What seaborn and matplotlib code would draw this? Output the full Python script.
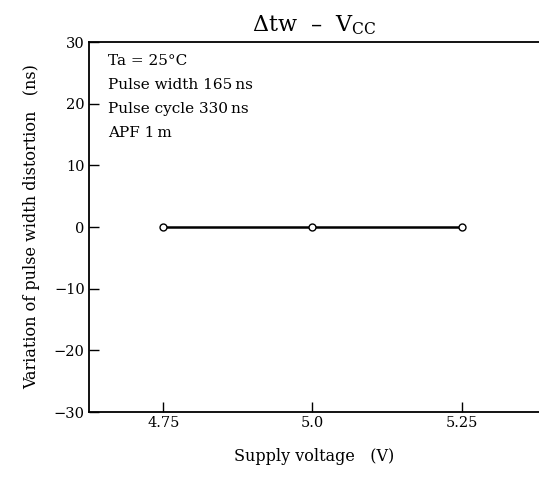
import numpy as np
import pandas as pd
import seaborn as sns
import matplotlib.pyplot as plt

# supply voltage (V) vs. variation of pulse width distortion (ns)
supply_voltage = [4.75, 5.0, 5.25]
distortion = [0.0, 0.0, 0.0]
x_ticks = [4.75, 5.0, 5.25]
x_tick_labels = ['4.75', '5.0', '5.25']
y_ticks = [-30, -20, -10, 0, 10, 20, 30]
y_tick_labels = ['\u221230', '\u221220', '\u221210', '0', '10', '20', '30']
conditions = ['Ta = 25\u00b0C', 'Pulse width 165\u2009ns', 'Pulse cycle 330\u2009ns', 'APF 1\u2009m']

df = pd.DataFrame({'Vcc': supply_voltage, 'dtw': distortion})

sns.set_style('ticks', {'text.color': 'black', 'axes.labelcolor': 'black'})
plt.rcParams['font.family'] = ['DejaVu Serif']
plt.rcParams['mathtext.fontset'] = 'dejavuserif'

fig, ax = plt.subplots(figsize=(5.39, 4.78), dpi=100)
fig.subplots_adjust(left=0.165, right=1.0, top=0.912, bottom=0.138)

sns.lineplot(data=df, x='Vcc', y='dtw', ax=ax, color='black', linewidth=1.8,
             marker='o', markersize=5, markerfacecolor='white',
             markeredgecolor='black', markeredgewidth=1.0)

ax.set_xlim(4.625, 5.38)
ax.set_ylim(-30, 30)
ax.set_xticks(x_ticks)
ax.set_xticklabels(x_tick_labels)
ax.set_yticks(y_ticks)
ax.set_yticklabels(y_tick_labels)
ax.tick_params(direction='in', length=7, width=1, labelsize=10.5, colors='black', pad=3)

for s in ['left', 'bottom', 'top']:
    ax.spines[s].set_linewidth(1.3)
    ax.spines[s].set_color('black')
ax.spines['right'].set_visible(False)

ax.set_xlabel('Supply voltage   (V)', fontsize=11.5, labelpad=13, color='black')
ax.set_ylabel('Variation of pulse width distortion   (ns)', fontsize=11.5, labelpad=10, color='black')
ax.set_title('$\\mathit{\\Delta}$tw  \u2013  V$_{\\rm CC}$', fontsize=16, pad=8, color='black')

for i, line in enumerate(conditions):
    ax.text(0.042, 0.95 - i * 0.065, line, transform=ax.transAxes,
            fontsize=11, va='center', ha='left', color='black')

fig.savefig('out.png', dpi=100)
